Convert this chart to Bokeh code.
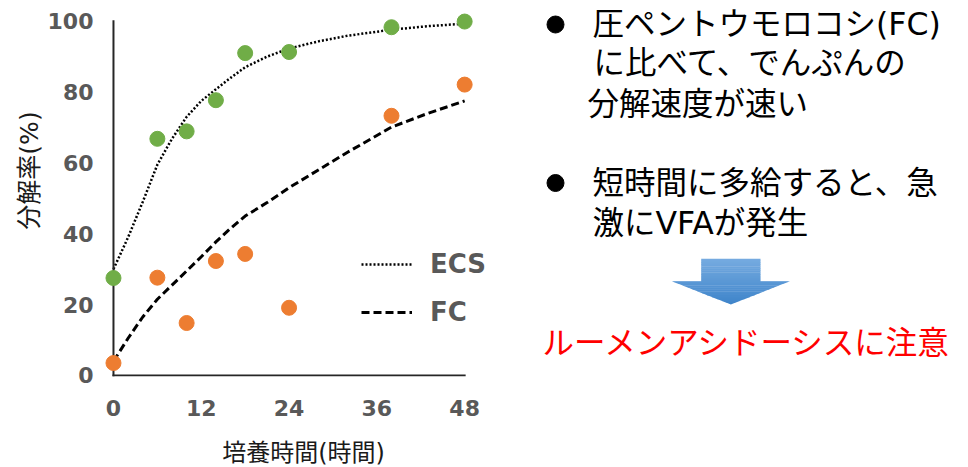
from bokeh.plotting import figure
from bokeh.models import Range1d, FixedTicker, Legend, LegendItem
from bokeh.layouts import row, column
from bokeh.core.properties import value
from bokeh.embed import file_html
from bokeh.resources import INLINE

# Incubation time (h) and measured degradation rate (%)
hours = [0, 6, 10, 14, 18, 24, 38, 48]
ecs_pct = [27.5, 66.8, 68.9, 77.7, 91.0, 91.3, 98.3, 99.9]
fc_pct = [3.5, 27.6, 14.8, 32.3, 34.3, 19.1, 73.3, 82.1]

# Fitted trend curves
curve_hours = [0, 2, 4, 6, 8, 10, 12, 14, 16, 18, 21, 24, 28, 32, 38, 43, 48]
ecs_fit = [30, 39, 49, 59.5, 66.8, 73, 77.5, 80.8, 84, 87, 90, 92.3, 94.3, 95.9, 97.6, 98.6, 99.3]
fc_fit = [4, 10.5, 16.5, 21.5, 25.5, 29.5, 33.5, 37.7, 41.5, 45, 48.8, 53, 58, 63, 70.1, 74, 77.5]

x_ticks = [0, 12, 24, 36, 48]
y_ticks = [0, 20, 40, 60, 80, 100]

series_names = ["ECS", "FC"]
x_title = "培養時間(時間)"
y_title = "分解率(%)"

notes = [
    "圧ペントウモロコシ(FC)",
    "に比べて、でんぷんの",
    "分解速度が速い",
    "短時間に多給すると、急",
    "激にVFAが発生",
]
warning = "ルーメンアシドーシスに注意"

FONT = "DejaVu Sans, Noto Sans CJK JP"
GREEN = "#70ad47"
ORANGE = "#ed7d31"
TICK_GRAY = "#595959"
AXIS_DARK = "#262626"
TITLE_COLOR = "#1a1a1a"

W, H = 968, 467
STRIP = 30            # height of the strip holding the x-axis title
ROW_H = H - STRIP
TOP = 6               # shared top border of the panels in the row
BOTTOM = ROW_H - 376  # shared bottom border (frame ends at y = 376)
YT_W = 44             # width of the strip holding the y-axis title
CHART_W = 500 - YT_W
NOTES_W = W - 500


def blank_panel(width, height, x0, x1, y_bottom, y_top, top=0, bottom=0):
    """A figure without axes whose data units are page pixels."""
    f = figure(width=width, height=height,
               x_range=Range1d(x0, x1), y_range=Range1d(y_bottom, y_top),
               x_axis_type=None, y_axis_type=None,
               output_backend="svg", toolbar_location=None,
               min_border_left=0, min_border_right=0,
               min_border_top=top, min_border_bottom=bottom)
    f.outline_line_color = None
    f.grid.visible = False
    return f


# ---------------- y-axis title strip ----------------
yt = blank_panel(YT_W, ROW_H, 0, YT_W, ROW_H - BOTTOM, TOP, TOP, BOTTOM)
yt.text(x=[29], y=[170], text=[y_title], angle=90, angle_units="deg",
        text_font=value(FONT), text_font_size="25px", text_color=TITLE_COLOR,
        text_align="center", text_baseline="middle")

# ---------------- chart ----------------
p = figure(width=CHART_W, height=ROW_H,
           x_range=Range1d(-1.5, 52.9), y_range=Range1d(-0.3, 104.15),
           output_backend="svg", toolbar_location=None,
           min_border_left=100 - YT_W, min_border_right=0,
           min_border_top=TOP, min_border_bottom=BOTTOM)
p.outline_line_color = None
p.grid.visible = False

r_ecs = p.line(curve_hours, ecs_fit, line_color="#000000", line_width=2.5, line_dash="2 2")
r_fc = p.line(curve_hours, fc_fit, line_color="#000000", line_width=3, line_dash="8 4")

# axis rules drawn at the origin, spanning the tick range
p.segment(x0=[x_ticks[0], x_ticks[0]], y0=[y_ticks[0], y_ticks[0]],
          x1=[x_ticks[0], x_ticks[-1]], y1=[y_ticks[-1], y_ticks[0]],
          line_color=AXIS_DARK, line_width=2, line_cap="square")

p.scatter(hours, ecs_pct, size=15, fill_color=GREEN, line_color=GREEN)
p.scatter(hours, fc_pct, size=15, fill_color=ORANGE, line_color=ORANGE)

for ax in (p.xaxis[0], p.yaxis[0]):
    ax.axis_line_color = None
    ax.major_tick_line_color = None
    ax.minor_tick_line_color = None
    ax.major_tick_out = 0
    ax.major_tick_in = 0
    ax.major_label_text_font = "DejaVu Sans"
    ax.major_label_text_font_style = "bold"
    ax.major_label_text_font_size = "22px"
    ax.major_label_text_color = TICK_GRAY

p.xaxis.ticker = FixedTicker(ticks=x_ticks)
p.xaxis.major_label_standoff = 23
p.yaxis.ticker = FixedTicker(ticks=y_ticks)
p.yaxis.major_label_standoff = 9

legend = Legend(items=[LegendItem(label=series_names[0], renderers=[r_ecs]),
                       LegendItem(label=series_names[1], renderers=[r_fc])],
                location=(259, 49), orientation="vertical",
                glyph_width=51, glyph_height=30, label_height=30, spacing=18,
                label_standoff=18, padding=0, margin=0,
                border_line_color=None, background_fill_alpha=0,
                label_text_font="DejaVu Sans", label_text_font_style="bold",
                label_text_font_size="26px", label_text_color=TICK_GRAY)
p.add_layout(legend)

# ---------------- notes panel ----------------
q = blank_panel(NOTES_W, ROW_H, 0, NOTES_W, ROW_H - BOTTOM, TOP, TOP, BOTTOM)

q.scatter([55, 55], [24, 182.5], size=17, fill_color="black", line_color="black")
q.text(x=[92, 93, 87, 92, 92], y=[23.5, 62, 103, 182, 222], text=notes,
       text_font=value(FONT), text_font_size="31.5px", text_color="#000000",
       text_align="left", text_baseline="middle")

# down arrow with a vertical blue gradient
top_rgb = (0x76, 0xab, 0xe0)
bot_rgb = (0x3e, 0x84, 0xca)
shaft_l, shaft_r, y_top, y_base, y_tip = 200.7, 260.0, 258.3, 280.7, 304.0
head_l, head_r = 171.7, 290.0
cx = (shaft_l + shaft_r) / 2


def half_width(y):
    if y <= y_base:
        return (shaft_r - shaft_l) / 2
    return (head_r - head_l) / 2 * max(0.0, y_tip - y) / (y_tip - y_base)


n = 24
xs, ys, cols = [], [], []
for i in range(n):
    a = y_top + (y_tip - y_top) * i / n
    b = min(y_top + (y_tip - y_top) * (i + 1) / n + 0.4, y_tip)
    f = (i + 0.5) / n
    col = "#%02x%02x%02x" % tuple(int(round(t + (u - t) * f)) for t, u in zip(top_rgb, bot_rgb))
    if a < y_base < b:
        hs = (shaft_r - shaft_l) / 2
        hh = (head_r - head_l) / 2
        hb = half_width(b)
        px = [cx - hs, cx + hs, cx + hs, cx + hh, cx + hb, cx - hb, cx - hh, cx - hs]
        py = [a, a, y_base, y_base, b, b, y_base, y_base]
    else:
        ha, hb = half_width(a), half_width(b)
        px = [cx - ha, cx + ha, cx + hb, cx - hb]
        py = [a, a, b, b]
    xs.append(px)
    ys.append(py)
    cols.append(col)
q.patches(xs, ys, fill_color=cols, line_color=None)

q.text(x=[42], y=[342], text=[warning], text_font=value(FONT), text_font_size="31.5px",
       text_color="#ff0000", text_align="left", text_baseline="middle")

# ---------------- x-axis title strip ----------------
xt = blank_panel(W, STRIP, 0, W, H, ROW_H)
xt.text(x=[303], y=[452], text=[x_title],
        text_font=value(FONT), text_font_size="24px", text_color=TITLE_COLOR,
        text_align="center", text_baseline="middle")

layout = column(row(yt, p, q), xt)
open("out.html", "w").write(file_html(layout, INLINE))
